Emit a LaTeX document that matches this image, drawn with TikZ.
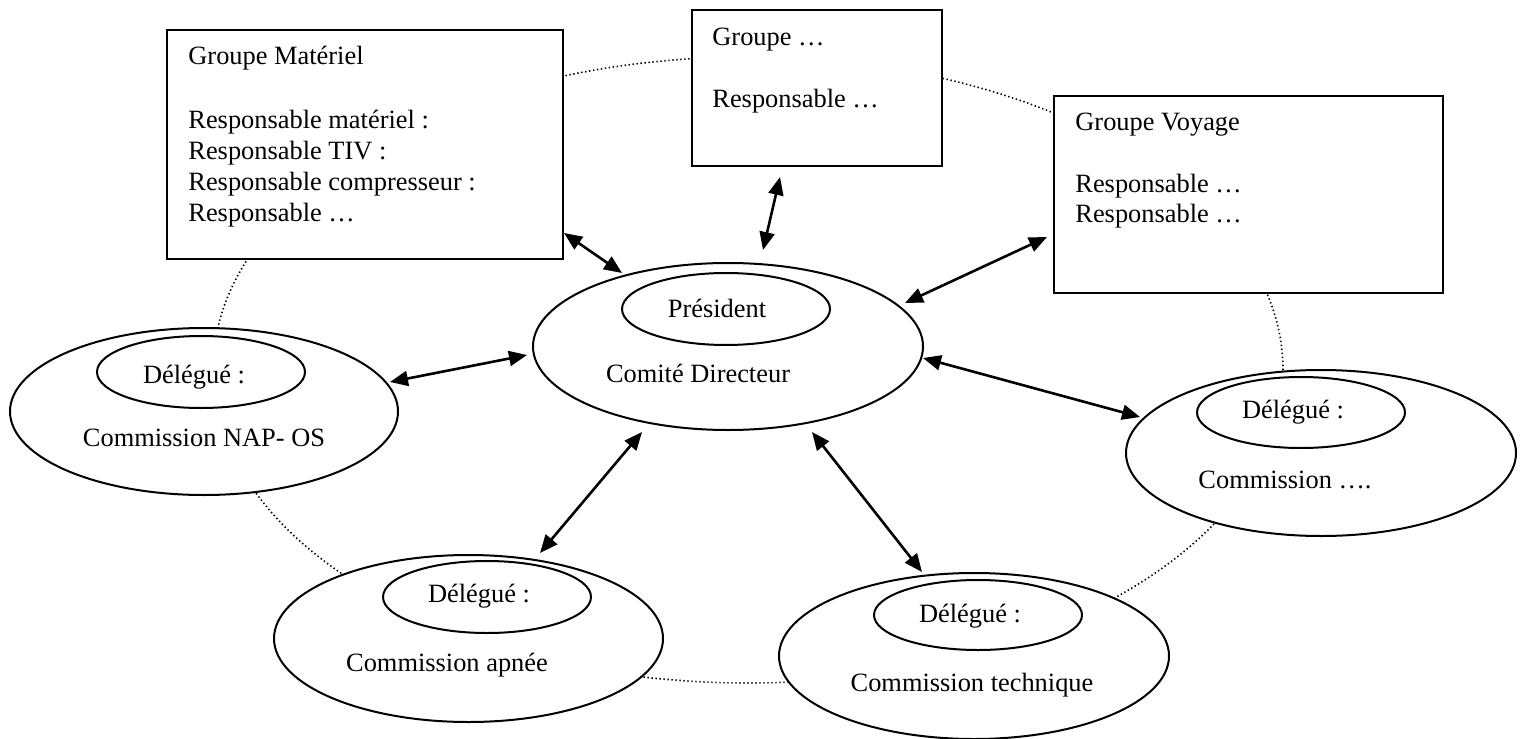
\documentclass[tikz,border=0pt]{standalone}
\usepackage{fontspec}
\setmainfont{Liberation Serif}
\usetikzlibrary{arrows.meta,calc,shapes.geometric}
\begin{document}
\begin{tikzpicture}[x=0.5pt,y=-0.5pt,
  txt/.style={font=\fontsize{13.2}{15.5}\selectfont, inner sep=0pt},
  boxnode/.style={draw, line width=1pt, fill=white, rectangle, inner sep=0pt},
  oval/.style={draw, line width=1pt, fill=white, ellipse, inner sep=0pt},
  link/.style={line width=1.3pt, {Triangle[length=9pt,width=7.5pt]}-{Triangle[length=9pt,width=7.5pt]}},
  ring/.style={line width=0.8pt, dash pattern=on 0.7pt off 1.3pt}]
\useasboundingbox (0,0) rectangle (1524,738);
\coordinate (ringc) at (748,370);
\draw[ring] (ringc) ellipse [x radius=267.5pt, y radius=156.5pt];

% boxes
\node[boxnode, minimum width=198pt, minimum height=114.5pt] (mat) at (365,144.5) {};
\node[boxnode, minimum width=125pt, minimum height=78pt] (grp) at (817,88) {};
\node[boxnode, minimum width=194.5pt, minimum height=98.5pt] (voy) at (1248.5,194.5) {};

\node[txt, anchor=base west] (mat1) at (188,65) {Groupe Matériel};
\node[txt, anchor=base west] (mat2) at (188,128) {Responsable matériel :};
\node[txt, anchor=base west] (mat3) at (188,159) {Responsable TIV :};
\node[txt, anchor=base west] (mat4) at (188,190) {Responsable compresseur :};
\node[txt, anchor=base west] (mat5) at (188,221) {Responsable …};

\node[txt, anchor=base west] (grp1) at (712,46) {Groupe …};
\node[txt, anchor=base west] (grp2) at (712,108) {Responsable …};

\node[txt, anchor=base west] (voy1) at (1075,130) {Groupe Voyage};
\node[txt, anchor=base west] (voy2) at (1075,192) {Responsable …};
\node[txt, anchor=base west] (voy3) at (1075,222) {Responsable …};

% ellipses
\node[oval, minimum width=195pt, minimum height=83.5pt] (comite) at (728,346.5) {};
\node[oval, minimum width=104pt, minimum height=36pt] (pres) at (726,309) {};
\node[txt] (prest) at (717,308) {Président};
\node[txt] (comitet) at (698,373) {Comité Directeur};

\node[oval, minimum width=194pt, minimum height=83.5pt] (nap) at (204,411.5) {};
\node[oval, minimum width=104pt, minimum height=36pt] (napd) at (201,372) {};
\node[txt] (napdt) at (194,377) {Délégué :};
\node[txt] (napt) at (204,438) {Commission NAP- OS};

\node[oval, minimum width=195pt, minimum height=83pt] (comx) at (1321,453) {};
\node[oval, minimum width=104pt, minimum height=35.5pt] (comxd) at (1301,412.5) {};
\node[txt] (comxdt) at (1293,412) {Délégué :};
\node[txt] (comxt) at (1285,480) {Commission ….};

\node[oval, minimum width=194.5pt, minimum height=83.5pt] (apnee) at (468.5,638.5) {};
\node[oval, minimum width=104pt, minimum height=36pt] (apneed) at (487,597) {};
\node[txt] (apneedt) at (479,596) {Délégué :};
\node[txt] (apneet) at (447,665) {Commission apnée};

\node[oval, minimum width=195pt, minimum height=83pt] (tech) at (974,656) {};
\node[oval, minimum width=104pt, minimum height=35pt] (techd) at (978,615) {};
\node[txt] (techdt) at (970,616) {Délégué :};
\node[txt] (techt) at (972,685) {Commission technique};

% connectors
\draw[link] ($(mat.center)+(199,88.5)$) -- ($(comite.center)+(-106,-73.5)$);
\draw[link] ($(grp.center)+(-37,89)$) -- ($(comite.center)+(35,-96.5)$);
\draw[link] ($(voy.center)+(-201.5,42.5)$) -- ($(comite.center)+(177,-43.5)$);
\draw[link] ($(nap.center)+(186,-29.5)$) -- ($(comite.center)+(-201,8.5)$);
\draw[link] ($(comite.center)+(195,11.5)$) -- ($(comx.center)+(-181,-36)$);
\draw[link] ($(comite.center)+(-86,85.5)$) -- ($(apnee.center)+(71.5,-85.5)$);
\draw[link] ($(comite.center)+(84,85.5)$) -- ($(tech.center)+(-52,-84)$);
\end{tikzpicture}
\end{document}
